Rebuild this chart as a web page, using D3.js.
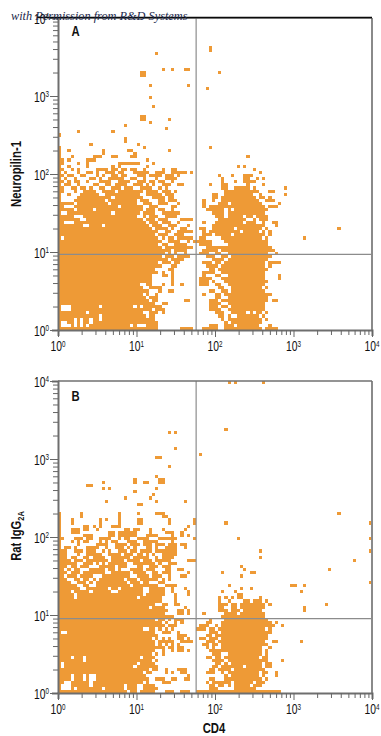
<!DOCTYPE html>
<html><head><meta charset="utf-8">
<script src="https://cdn.jsdelivr.net/npm/d3@7/dist/d3.min.js"></script>
<style>html,body{margin:0;padding:0;background:#fff}svg{display:block}</style></head>
<body><div id="c"></div>
<script>
// Occupied channels of the 100x100 log dot plot. Index = channel row from the bottom.
const rowsA = [
"0-31 39-42 46-50 53-64 66-69",
"0 4 6 8 10-22 24 28-31 48-50 53-55 57-63 67",
"0 3-4 6 8-9 11-31 53 55-64",
"0-4 6 8-9 11-12 14-30 52 54-64 66",
"0-12 14-27 29-30 51-52 54 57-63 65",
"0-8 10-26 29-31 33 50-52 55-59 61 63-64 66",
"0 4-29 31-33 48-51 54-65",
"0 4-12 14-23 25 27-32 48-50 52-53 55-65",
"0-30 33-34 48-51 54-65",
"0-28 30-31 40-41 48-50 52-54 55-66 68-69",
"0-27 29-31 50-51 54-66",
"0-26 28 31 46 50-51 53-65 66-67",
"0-28 32 35-36 48-49 52-53 55-65",
"0-26 29-32 51-52 55-64 66",
"0-25 28-29 33 36 39 45-47 50-51 54-65",
"0-29 36 45-47 49 53-65 66",
"0-29 36 45-48 52-65 70",
"0-29 33-34 36 46 50-51 54-65 70",
"0-31 33 36 46-49 52-65",
"0-30 35-36 48-49 51-65 66",
"0-32 36-37 47-50 52-65 67",
"0-31 33-35 37-38 46-48 50-51 53-65 67-70",
"0-34 36-39 49-52 54-66",
"0-32 34-36 38-41 47-49 52-53 55-65 66-67",
"0-33 35 37 40 45-47 50-51 54-66 69",
"0-35 37-40 46-50 52-68",
"0-32 34-42 47-67",
"0-31 33-34 37-40 45-48 54-66",
"0-32 35-38 41 43-48 53-66",
"0 2-31 33 35-36 38-42 45-46 52-64 66",
"0-30 32-34 37-39 46-48 50-54 56-65 67",
"0-31 34-35 38-42 46 48-57 59-63 65 67",
"0-29 31-34 36 39-40 45-46 49-55 57-64 66",
"0-7 10-13 15-28 30-32 35-37 41 49-65 69",
"0-1 5-27 29-31 33-35 38 46 50-58 60-62 65 68-69",
"0-6 9-26 28-30 32-34 39-42 51-59 62 64-66",
"0-4 8-24 27 29-31 34-37 50-52 54-58 60-61 63-66",
"0 3-16 18-25 27-30 33-38 49-52 54-65",
"0-4 6-10 12-26 28-30 32-33 36 47-52 54 56-66",
"0-1 5-18 20-26 29-31 36-37 46 48-65 67-69",
"0-4 6-15 17-24 27-29 32-34 38 46 51-53 55-64 70",
"0 5-14 16-24 26-28 32-33 35-37 46 49 52-63 66-68",
"0 6-16 18-26 30-33 35-36 49-50 52-62 64-65 67",
"0 3 7-12 15-25 28-32 34-36 49-50 53-61 64 72",
"0-1 5 8-11 14-17 19-26 28-31 33-35 37 53-59 60-63 67-68",
"0-1 4-5 7-8 10 13-14 17-19 21-23 26-29 32 34 52-53 56-60 62 72",
"0 2-3 6 11-12 15-16 18-21 24-26 28 30 33-35 38-39 48 52-53 60 65",
"0-1 3 5-6 9 13-16 19-22 25-27 29-30 32-33 36 52 56 59-62",
"0 2 5 10-11 13 16-20 23-24 27 31 34-37 52 59-60 63 65",
"0-1 3-4 7-8 12 14 17-18 20-21 25-27 29-32 34-36 38 51 55 59-61",
"0 2 6 9-10 12 15-17 19-20 24-28 31-33 36-40 42 64",
"0-1 4 6 12-15 17-18 20-21 23-24 27 33 36-37 62",
"0 3 9 17 19 28 57 59",
"0-1 6 9 19-21 22-25 30",
"0-1 3 9-11 28",
"0 4 11-13 17-18 23-24 60"
];
const sparseA = [[89,32],[78,29],[48,89],[48,90],[51,82],[47,77],[48,58],[31,88],[33,83],[36,83],[40,83],[41,83],
[26,82],[27,82],[26,81],[27,81],[29,78],[41,78],[29,74],[30,71],[26,68],[27,68],[26,67],[27,67],[35,67],[29,66],
[34,64],[21,65],[17,63],[6,63],[0,62],[21,61],[21,60],[10,59],[25,59],[27,58],[0,58],[0,57],[3,57],[35,57],
[14,57],[14,56],[22,57],[23,57],[24,56],[0,56]];
const rowsB = [
"0-21 23-24 26-29 30 34-36 39-41 44-70",
"0 4 6-13 15-20 22-24 27-31 48-50 56-62",
"0 4-9 11-20 22-24 27-30 48-49 51-52 54 56-60 62-64",
"0-1 4-9 11-26 28 33-35 47 49-54 56-61 63-65",
"0-3 5-7 9 12-26 27-28 31-33 36-37 40-41 48-49 53-64 66",
"0-3 5-7 9 12-25 26-27 41 53 55-63 65 69",
"0-26 28-29 34 36 39-40 47-49 52 54-63 65-66 69",
"0-25 26-28 30-31 34 38-40 48-49 51-54 56-64 65",
"0 2-23 25-31 49-50 52-58 60-64 66-67",
"0 2-24 26-30 50-51 53 55-64 66-67",
"0-7 9-25 26-29 31 49-52 54-66 71",
"0-3 5-7 9-25 27-30 47-48 50-51 53-63 65-66",
"0-29 31 33 49-51 54-64 66",
"0-30 33 36 38-39 41 48-52 53-64 66",
"0-30 31-33 35-36 38-39 47 49 52-64 67",
"0-30 32 34 36 38 46-47 49-50 52-65 66",
"0-30 32-33 34-36 39-40 41-42 47-49 51-65 68-69 77",
"0-29 31 33 35 38-39 41 45-46 48-50 52-66",
"0-31 38-40 47-48 50-65 66",
"0 3-30 33-35 38 48-50 52-66 67",
"0-26 29-30 32 34 36 44-46 48-49 51-65 67",
"0-30 31-33 35-37 45-47 50 52-66 67-68 71",
"0-30 31-32 34 37 39 47-48 52-66 67 69",
"0-30 32-33 35 37-39 48 53-66",
"0-36 52-65",
"0-28 29-33 38-39 41 46 53-56 58-65",
"0-29 30-34 38-39 41 51-53 55-57 59-64 78",
"0-28 30-33 40 51-52 55-56 58-65 78",
"0-30 33-34 37-38 51-53 55-56 58-65 67 85",
"0-30 31-32 37 51 54 59-60 62-64 66",
"0-4 6-24 26-32 37 51 53 55 57-58 64",
"0-4 6-26 28-33 37 41 57-58",
"0-3 5-9 11-16 19-26 29-33 36 41 52 56 77",
"0-6 9-15 17-18 20-26 29-33 36 40 58 61",
"0-5 8-9 12-22 24-31 34-37 54 74-75 78",
"0-3 6-8 10 12-21 23-25 27-28 32-33 99",
"0-2 5-6 8-9 11 13-20 22-24 26-31 33 35",
"0-1 3-5 7-10 14-22 25-28 30-32 35 39-40 58",
"0-2 4-6 8-14 17-22 24-27 30-31 33-35 41 52 61-62",
"0-1 3 5-6 10-14 16-17 19 23-26 28-30 34-35 38-39 59 86",
"0-2 4-5 7-9 13-17 19-21 25-26 29-31 33-35 58",
"0-5 8-10 12 14 16-21 24-30 32 35-37",
"0-3 5-7 9-15 17-20 22-25 27-29 31-35 41-43 94",
"0-2 4-5 8-9 11-14 17-19 20-22 24-28 31 33-36 64",
"0-2 6 9-13 16-18 19 21-23 25-26 28 30 33-37",
"0-2 5-7 9-11 14 16 19-21 23-24 26-29 31-33 34-37 64 99",
"0 2-3 5 9-12 15 18-20 22 24 28-29 31 34-37 40",
"0 6 12-15 18-21 23-25 27-29 31-33 35-37 39-40",
"0 4 6 8-9 13 15 17-18 22-24 27-31 36",
"0-1 5-7 9-10 13-16 19 21-22 25-28 32-37 43 57 99",
"0 8-10 16-17 19-24 28-31 36 39 41",
"0 4-6 16-17 19-24 29 34-36 39",
"0 4-6 8-9 12 21-22 24-25 29 33 40",
"0 8-9 11 13 17-19 41",
"0 4 13 19 25-26 35 43 53 99",
"0 4 13 15 19 25-26 35 43",
"0 7 19 33-34",
"0 7 19 25 31-33"
];
const sparseB = [[35,83],[37,83],[37,78],[31,75],[32,75],[35,72],[31,69],[32,68],[33,68],[32,67],[33,67],[24,68],[24,67],
[14,67],[9,66],[10,66],[27,67],[28,67],[14,65],[16,65],[31,65],[24,64],[30,63],[29,62],[21,62],[15,61],[31,61],[40,61],
[25,60],[26,60],[54,99],[56,99],[65,99],[53,84],[45,76],[89,57]];

const xTickValues = [1,2,3,4,5,6,7,8,9,10,20,30,40,50,60,70,80,90,100,200,300,400,500,600,700,800,900,1000,2000,3000,4000,5000,6000,7000,8000,9000,10000];
const decadeExponents = ["0","1","2","3","4"];
const channelsPerDecade = 25;
const gateValues = {xA: 57.5, yA: 9.3, xB: 57.5, yB: 9.0};
const titleA = "Neuropilin-1", panelLetters = ["A","B"], xTitle = "CD4";
const watermark = "with Permission from R&D Systems";

const W = 381, H = 736;
const svg = d3.select("#c").append("svg").attr("width", W).attr("height", H);
const SANS = "'Liberation Sans',sans-serif";
const ORANGE = "#ee9a36";
const AX = "#6e6e6e";
const NARROW_X = 0.74;
const valueOf = c => Math.pow(10, c / channelsPerDecade);

function parse(rows){
  const out = [];
  rows.forEach((s, r) => {
    s.split(/\s+/).filter(Boolean).forEach(t => {
      const [a, b] = t.split("-").map(Number);
      out.push({c0: a, c1: (b === undefined ? a : b) + 1, r});
    });
  });
  return out;
}
function powLabel(sel){
  sel.each(function(d){
    const e = Math.round(Math.log10(d));
    const t = d3.select(this);
    t.append("tspan").text("10");
    t.append("tspan").attr("dy","-4.5").attr("font-size","8.5px").text(decadeExponents[e]);
  });
}
function panel(rows, sparse, top, bottom, gx, gy){
  const x = d3.scaleLog().domain([1,1e4]).range([58,372]);
  const y = d3.scaleLog().domain([1,1e4]).range([bottom,top]);
  const g = svg.append("g");
  const cells = parse(rows).concat(sparse.map(([c,r]) => ({c0:c,c1:c+1,r})));
  g.selectAll("rect.cell").data(cells).join("rect").attr("class","cell")
    .attr("x", d => x(valueOf(d.c0)))
    .attr("width", d => x(valueOf(d.c1)) - x(valueOf(d.c0)))
    .attr("y", d => y(valueOf(d.r+1)))
    .attr("height", d => y(valueOf(d.r)) - y(valueOf(d.r+1)))
    .attr("fill", ORANGE).attr("shape-rendering","crispEdges");
  g.append("line").attr("x1",x(gx)).attr("x2",x(gx)).attr("y1",top).attr("y2",bottom).attr("stroke","#8c8c8c").attr("stroke-width",1.2);
  g.append("line").attr("x1",58).attr("x2",372).attr("y1",y(gy)).attr("y2",y(gy)).attr("stroke","#8c8c8c").attr("stroke-width",1.2);
  g.append("line").attr("x1",372).attr("x2",372).attr("y1",top).attr("y2",bottom).attr("stroke","#8a8a8a").attr("stroke-width",2);
  g.append("line").attr("x1",58).attr("x2",372).attr("y1",top).attr("y2",top).attr("stroke","#707070").attr("stroke-width",1.4);
  const isMajor = v => Math.abs(Math.log10(v)-Math.round(Math.log10(v)))<1e-6;
  const axB = g.append("g").attr("transform",`translate(0,${bottom})`)
    .call(d3.axisBottom(x).tickValues(xTickValues).tickSize(6).tickFormat(""));
  const axL = g.append("g").attr("transform","translate(58,0)")
    .call(d3.axisLeft(y).tickValues(xTickValues).tickSize(6).tickFormat(""));
  [axB,axL].forEach(a => {
    a.select(".domain").attr("stroke",AX).attr("stroke-width",2);
    a.selectAll(".tick line").attr("stroke","#666").attr("stroke-width",1);
  });
  axB.selectAll(".tick line").attr("y2", d => isMajor(d) ? 7 : 5);
  axL.selectAll(".tick line").attr("x2", d => isMajor(d) ? -8 : -5);
  const maj = xTickValues.filter(isMajor);
  g.selectAll("text.xl").data(maj).join("text").attr("class","xl")
    .attr("transform", d => `translate(${x(d)},${bottom+21}) scale(${NARROW_X},1)`).attr("text-anchor","middle")
    .attr("font-family",SANS).attr("font-size","14px").attr("fill","#111").call(powLabel);
  g.selectAll("text.yl").data(maj).join("text").attr("class","yl")
    .attr("transform", d => `translate(49,${y(d)+5.5}) scale(${NARROW_X},1)`).attr("text-anchor","end")
    .attr("font-family",SANS).attr("font-size","14px").attr("fill","#111").call(powLabel);
  return {x,y};
}
panel(rowsA, sparseA, 18, 330, gateValues.xA, gateValues.yA);
panel(rowsB, sparseB, 381, 693, gateValues.xB, gateValues.yB);

function bold(x,y,txt,rot){
  return svg.append("text").attr("transform",`translate(${x},${y})`+(rot?" rotate(-90)":"")+` scale(0.78,1)`)
    .attr("font-family",SANS).attr("font-weight","700").attr("font-size","14.5px").attr("fill","#111")
    .attr("text-anchor","middle").text(txt);
}
bold(75.5,36,panelLetters[0]);
bold(75.5,401,panelLetters[1]);
bold(21,174,titleA,true);
const rat = bold(21,536,"Rat IgG",true);
rat.append("tspan").attr("dy","3").attr("font-size","9.5px").text("2A");
bold(214,733,xTitle);

svg.append("line").attr("x1",37).attr("x2",372).attr("y1",17.5).attr("y2",17.5).attr("stroke","#0a0a0a").attr("stroke-width",1.4);
svg.append("text").attr("x",11).attr("y",20).attr("font-family","'Liberation Serif',serif").attr("font-style","italic")
  .attr("font-size","12.3px").attr("fill","#1d2a4d").text(watermark);
</script></body></html>
